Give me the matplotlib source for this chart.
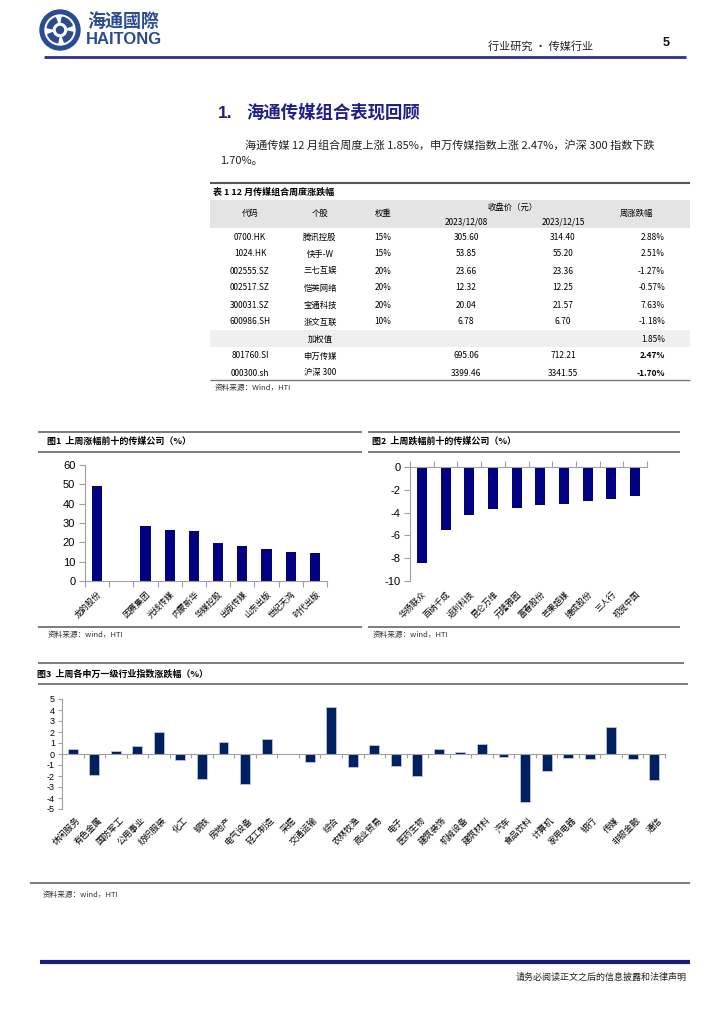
import matplotlib
matplotlib.use('Agg')
import matplotlib.pyplot as plt
from matplotlib.patches import Rectangle, Circle, Wedge
import matplotlib.transforms as mtrans
import numpy as np

plt.rcParams['font.family'] = ['Noto Sans CJK SC', 'DejaVu Sans']
plt.rcParams['axes.unicode_minus'] = False

# ---------------- data ----------------
table_codes = ['0700.HK', '1024.HK', '002555.SZ', '002517.SZ', '300031.SZ', '600986.SH', '', '801760.SI', '000300.sh']
table_names = ['腾讯控股', '快手-W', '三七互娱', '恺英网络', '宝通科技', '浙文互联', '加权值', '申万传媒', '沪深 300']
table_weights = ['15%', '15%', '20%', '20%', '20%', '10%', '', '', '']
close_1208 = ['305.60', '53.85', '23.66', '12.32', '20.04', '6.78', '', '695.06', '3399.46']
close_1215 = ['314.40', '55.20', '23.36', '12.25', '21.57', '6.70', '', '712.21', '3341.55']
weekly_chg = ['2.88%', '2.51%', '-1.27%', '-0.57%', '7.63%', '-1.18%', '1.85%', '2.47%', '-1.70%']

top_gainers = ['龙韵股份', '', '因赛集团', '光线传媒', '内蒙新华', '华媒控股', '出版传媒', '山东出版', '世纪天鸿', '时代出版']
top_gain_vals = [49.0, 0.0, 28.3, 26.6, 26.1, 19.7, 18.0, 16.8, 15.0, 14.7]

top_losers = ['华扬联众', '百纳千成', '返利科技', '昆仑万维', '元隆雅图', '富春股份', '芒果超媒', '捷成股份', '三人行', '视觉中国']
top_loss_vals = [-8.4, -5.5, -4.25, -3.7, -3.6, -3.35, -3.25, -3.0, -2.8, -2.5]

industries = ['休闲服务', '有色金属', '国防军工', '公用事业', '纺织服装', '化工', '钢铁', '房地产',
              '电气设备', '轻工制造', '采掘', '交通运输', '综合', '农林牧渔', '商业贸易', '电子',
              '医药生物', '建筑装饰', '机械设备', '建筑材料', '汽车', '食品饮料', '计算机', '家用电器',
              '银行', '传媒', '非银金融', '通信']
industry_vals = [0.5, -1.9, 0.3, 0.7, 2.0, -0.55, -2.3, 1.1,
                 -2.75, 1.35, 0.02, -0.7, 4.25, -1.2, 0.85, -1.05,
                 -2.0, 0.45, 0.2, 0.95, -0.25, -4.35, -1.5, -0.4,
                 -0.45, 2.5, -0.45, -2.35]

# ---------------- page ----------------
W, H = 724, 1024
fig = plt.figure(figsize=(7.24, 10.24), dpi=100)
bg = fig.add_axes([0, 0, 1, 1])
bg.set_xlim(0, W)
bg.set_ylim(H, 0)
bg.axis('off')


def add_ax(x0, y0, x1, y1):
    return fig.add_axes([x0 / W, 1 - y1 / H, (x1 - x0) / W, (y1 - y0) / H])


def hline(y, x0, x1, color='#666666', lw=1.2):
    bg.plot([x0, x1], [y, y], color=color, lw=lw, solid_capstyle='butt')


logo_blue = '#2a4b94'
# logo
bg.add_patch(Circle((60, 30), 20, color=logo_blue))
bg.add_patch(Circle((60, 30), 15, color='white'))
for ang in [0, 90, 180, 270]:
    bg.add_patch(Wedge((60, 30), 13, ang + 10, ang + 70, width=5, color=logo_blue))
bg.add_patch(Circle((60, 30), 3.5, color=logo_blue))
bg.text(87, 21, '海通國際', fontsize=13, fontweight='bold', color=logo_blue, va='center', ha='left')
bg.text(86, 40, 'HAITONG', fontsize=12, fontweight='bold', color=logo_blue, va='center', ha='left',
        family=['Liberation Sans'])

bg.text(488, 46, '行业研究 • 传媒行业', fontsize=8, color='#222222', va='center', ha='left')
bg.text(666, 43, '5', fontsize=9, fontweight='bold', color='#111111', va='center', ha='center',
        family=['Liberation Sans'])
hline(57, 44, 686, color='#2f2f8f', lw=2)

# section title and paragraph
bg.text(218, 113, '1.', fontsize=12.5, fontweight='bold', color='#1f1f8c', va='center', ha='left',
        family=['Liberation Sans'])
bg.text(246, 113, '海通传媒组合表现回顾', fontsize=12.5, fontweight='bold', color='#1f1f8c', va='center', ha='left')
bg.text(245, 145, '海通传媒 12 月组合周度上涨 1.85%，申万传媒指数上涨 2.47%，沪深 300 指数下跌',
        fontsize=8, color='#222222', va='center', ha='left')
bg.text(220, 161, '1.70%。', fontsize=8, color='#222222', va='center', ha='left')

# ---------------- table ----------------
tx0, tx1 = 210, 690
hline(183, tx0, tx1, color='#555555', lw=1.5)
bg.text(213, 192, '表 1 12 月传媒组合周度涨跌幅', fontsize=6.5, fontweight='bold', va='center', ha='left')
bg.add_patch(Rectangle((tx0, 200), tx1 - tx0, 28, color='#e4e4e4', lw=0))
bg.add_patch(Rectangle((tx0, 330), tx1 - tx0, 17, color='#efefef', lw=0))
hfs = 6
bg.text(250, 213, '代码', fontsize=hfs, ha='center', va='center')
bg.text(320, 213, '个股', fontsize=hfs, ha='center', va='center')
bg.text(383, 213, '权重', fontsize=hfs, ha='center', va='center')
bg.text(513, 207, '收盘价（元）', fontsize=hfs, ha='center', va='center')
bg.text(466, 222, '2023/12/08', fontsize=hfs, ha='center', va='center')
bg.text(563, 222, '2023/12/15', fontsize=hfs, ha='center', va='center')
bg.text(637, 213, '周涨跌幅', fontsize=hfs, ha='center', va='center')
for i in range(len(table_codes)):
    y = 237 + 17 * i
    bg.text(250, y, table_codes[i], fontsize=hfs, ha='center', va='center')
    bg.text(320, y, table_names[i], fontsize=hfs, ha='center', va='center')
    bg.text(383, y, table_weights[i], fontsize=hfs, ha='center', va='center')
    bg.text(466, y, close_1208[i], fontsize=hfs, ha='center', va='center')
    bg.text(563, y, close_1215[i], fontsize=hfs, ha='center', va='center')
    bold = 'bold' if i >= 7 else 'normal'
    bg.text(665, y, weekly_chg[i], fontsize=hfs, ha='right', va='center', fontweight=bold)
hline(380, tx0, tx1, color='#777777', lw=1)
bg.text(215, 388, '资料来源：Wind，HTI', fontsize=5.5, color='#333333', ha='left', va='center')

bar_blue = '#000080'
spine_col = '#a0a0a0'

# ---------------- chart 1 ----------------
hline(432, 38, 362)
bg.text(47, 441, '图1  上周涨幅前十的传媒公司（%）', fontsize=6.5, fontweight='bold', ha='left', va='center')
hline(452, 38, 362)
hline(627, 38, 362)
bg.text(48, 635, '资料来源：wind，HTI', fontsize=5.5, color='#333333', ha='left', va='center')

ax1 = add_ax(85, 465, 327, 581)
n1 = len(top_gainers)
x1 = np.arange(n1)
ax1.bar(x1, top_gain_vals, width=0.42, color=bar_blue)
ax1.set_xlim(-0.5, n1 - 0.5)
ax1.set_ylim(0, 60)
ax1.set_yticks(range(0, 61, 10))
ax1.set_xticks(np.arange(-0.5, n1, 1.0))
ax1.set_xticklabels([])
ax1.set_xticks(x1, minor=True)
ax1.set_xticklabels(top_gainers, minor=True, rotation=45, ha='right', va='top',
                    rotation_mode='anchor', fontsize=6)
ax1.tick_params(axis='x', which='minor', length=0, pad=6)
ax1.tick_params(axis='x', which='major', length=4, color=spine_col, direction='out')
ax1.tick_params(axis='y', length=4, color=spine_col, labelsize=8, pad=3)
for lab in ax1.get_yticklabels():
    lab.set_family(['Liberation Sans'])
for s in ['top', 'right']:
    ax1.spines[s].set_visible(False)
for s in ['left', 'bottom']:
    ax1.spines[s].set_color(spine_col)
ax1.patch.set_alpha(0)

# ---------------- chart 2 ----------------
hline(432, 368, 680)
bg.text(372, 441, '图2  上周跌幅前十的传媒公司（%）', fontsize=6.5, fontweight='bold', ha='left', va='center')
hline(452, 368, 680)
hline(627, 368, 680)
bg.text(373, 635, '资料来源：wind，HTI', fontsize=5.5, color='#333333', ha='left', va='center')

ax2 = add_ax(410, 467, 647, 581)
n2 = len(top_losers)
x2 = np.arange(n2)
ax2.bar(x2, top_loss_vals, width=0.42, color=bar_blue)
ax2.set_xlim(-0.5, n2 - 0.5)
ax2.set_ylim(-10, 0)
ax2.set_yticks(range(-10, 1, 2))
ax2.set_xticks(np.arange(-0.5, n2, 1.0))
ax2.set_xticklabels([])
ax2.set_xticks(x2, minor=True)
ax2.set_xticklabels(top_losers, minor=True, rotation=45, ha='right', va='top',
                    rotation_mode='anchor', fontsize=6)
ax2.tick_params(axis='x', which='major', top=True, bottom=False, length=4, color=spine_col, direction='out')
ax2.tick_params(axis='x', which='minor', top=False, bottom=True, length=0, pad=6, labelbottom=True)
ax2.tick_params(axis='y', length=4, color=spine_col, labelsize=8, pad=3)
for lab in ax2.get_yticklabels():
    lab.set_family(['Liberation Sans'])
for s in ['bottom', 'right']:
    ax2.spines[s].set_visible(False)
for s in ['left', 'top']:
    ax2.spines[s].set_color(spine_col)
ax2.patch.set_alpha(0)

# ---------------- chart 3 ----------------
hline(663, 38, 684)
bg.text(37, 674, '图3  上周各申万一级行业指数涨跌幅（%）', fontsize=6.5, fontweight='bold', ha='left', va='center')
hline(684, 38, 688)
hline(883, 30, 690)
bg.text(43, 895, '资料来源：wind，HTI', fontsize=5.5, color='#333333', ha='left', va='center')

ax3 = add_ax(62, 699, 665, 809)
n3 = len(industries)
x3 = np.arange(n3)
ax3.bar(x3, industry_vals, width=0.46, color='#002060', edgecolor='#c0c4e0', linewidth=0.6)
ax3.set_xlim(-0.5, n3 - 0.5)
ax3.set_ylim(-5, 5)
ax3.set_yticks(range(-5, 6, 1))
ax3.spines['bottom'].set_position(('data', 0))
ax3.set_xticks(np.arange(-0.5, n3, 1.0))
ax3.set_xticklabels([])
ax3.tick_params(axis='x', which='major', length=3, color=spine_col, direction='out')
ax3.tick_params(axis='y', length=3, color=spine_col, labelsize=6.5, pad=2)
for lab in ax3.get_yticklabels():
    lab.set_family(['Liberation Sans'])
for s in ['top', 'right']:
    ax3.spines[s].set_visible(False)
for s in ['left', 'bottom']:
    ax3.spines[s].set_color(spine_col)
trans3 = mtrans.blended_transform_factory(ax3.transData, ax3.transAxes)
for i, name in enumerate(industries):
    ax3.text(i + 0.15, -0.06, name, transform=trans3, rotation=45, ha='right', va='top',
             rotation_mode='anchor', fontsize=6.3)
ax3.patch.set_alpha(0)

# ---------------- footer ----------------
hline(962, 40, 690, color='#1a1a80', lw=3)
bg.text(687, 977, '请务必阅读正文之后的信息披露和法律声明', fontsize=6.5, color='#222222', ha='right', va='center')

fig.savefig('out.png', dpi=100)
